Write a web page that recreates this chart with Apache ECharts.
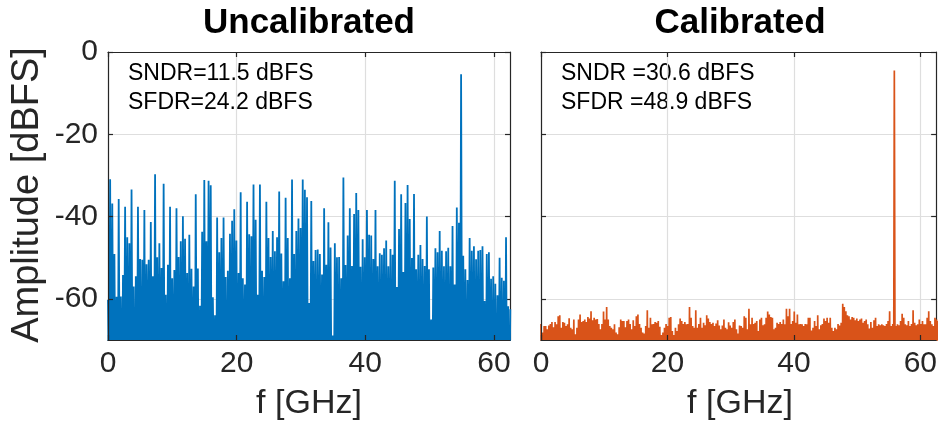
<!DOCTYPE html>
<html>
<head>
<meta charset="utf-8">
<script src="https://cdn.jsdelivr.net/npm/echarts@6/dist/echarts.min.js"></script>
<style>
  html, body { margin: 0; padding: 0; background: #fff; }
  #chart { width: 940px; height: 425px; }
</style>
</head>
<body>
<div id="chart"></div>
<script>
// Output spectra of the ADC, in dBFS, before and after calibration.
// Each spectrum is stored as its spectral-line maxima plus the deep
// minima between neighbouring lines (below the -70 dB plot floor).

const panelTitles = ['Uncalibrated', 'Calibrated'];
const metricLines = [
  ['SNDR=11.5 dBFS', 'SFDR=24.2 dBFS'],
  ['SNDR =30.6 dBFS', 'SFDR =48.9 dBFS']
];
const xTickValues = [0, 20, 40, 60];
const yTickValues = [-60, -40, -20, 0];
const freqRangeGHz = [0, 62.5];
const ampRangeDb = [-70, 0];

// spacing of the spectral lines, GHz
const uncalLineStepGHz = 0.3327;
const calLineStepGHz = 0.2473;

const uncalPeaks = [
  -60.2, -30.9, -36.8, -49.1, -59.5, -35.7, -59.4, -54.2, -37.6, -45.0,
  -46.5, -33.4, -57.0, -54.5, -37.6, -50.3, -50.5, -38.4, -51.6, -50.5,
  -41.3, -54.5, -29.7, -49.9, -46.5, -52.5, -32.0, -59.0, -51.7, -37.6,
  -55.0, -53.0, -38.0, -49.8, -46.0, -39.9, -45.4, -53.7, -44.4, -52.7,
  -57.0, -34.6, -52.6, -61.7, -43.7, -31.1, -46.0, -31.3, -32.4, -59.6,
  -64.0, -40.2, -48.7, -45.2, -40.2, -54.7, -53.2, -44.2, -41.0, -38.2,
  -45.8, -53.7, -34.1, -55.0, -56.5, -36.4, -44.3, -44.8, -32.2, -40.8,
  -59.0, -32.2, -53.2, -54.7, -36.4, -45.2, -49.8, -43.5, -48.4, -45.0,
  -33.9, -49.0, -55.7, -35.4, -45.2, -55.0, -31.0, -49.1, -43.5, -40.5,
  -42.8, -31.0, -33.5, -35.3, -61.0, -36.2, -50.8, -48.1, -48.0, -49.1,
  -54.1, -38.0, -51.7, -41.4, -47.5, -68.9, -46.5, -49.9, -49.8, -55.0,
  -30.5, -51.8, -44.6, -38.0, -52.0, -39.4, -34.3, -38.4, -52.2, -45.5,
  -49.9, -38.4, -44.4, -44.6, -50.3, -38.4, -52.1,
  -48.9, -49.3, -47.7, -45.8, -52.1, -47.9, -49.3, -31.3, -57.1, -43.0,
  -34.6, -53.5, -36.7, -32.3, -40.6, -50.1, -34.5, -52.8, -49.3, -46.9,
  -50.3, -52.0, -40.0, -52.8, -65.0, -52.4, -47.7, -48.7, -43.5, -48.3,
  -52.1, -48.4, -47.6, -52.1, -42.3, -56.5, -37.8, -41.5, -5.4, -49.5,
  -52.8, -55.4, -45.2, -48.3, -47.2, -50.4, -48.3, -48.1, -47.2, -60.5,
  -49.1, -48.7, -55.1, -54.5, -56.3, -59.1, -50.0, -54.9, -55.6, -45.0,
  -61.8, -62.5
];

const uncalValleys = [
  -88, -95, -82, -90, -99, -85, -92, -80, -96, -87,
  -91, -84, -98, -89, -83, -94, -86, -100, -81, -93,
  -90, -85, -97, -88, -82, -95, -87, -92, -84, -99,
  -86, -93, -81, -90, -96, -88, -83, -94, -89, -85,
  -98, -82, -91, -87, -95, -84, -90, -86, -93, -80,
  -97, -88, -85, -92, -83, -96, -89, -87, -94, -82,
  -91, -86, -99, -84, -90, -88, -95, -81, -93, -87,
  -85, -92, -89, -97, -83, -90, -86, -94, -88, -82,
  -96, -84, -91, -87, -93, -85, -98, -89, -82, -92,
  -86, -95, -83, -90, -88, -94, -81, -97, -87, -85,
  -92, -89, -84, -96, -88, -91, -83, -93, -86, -99,
  -82, -90, -87, -95, -85, -92, -88, -80, -94, -86,
  -91, -84, -97, -89, -83, -93, -87, -90, -85, -96,
  -88, -82, -92, -86, -95, -84, -89, -91, -83, -98,
  -87, -90, -85, -93, -81, -94, -88, -86, -92, -84,
  -96, -89, -83, -91, -87, -95, -82, -90, -86, -93,
  -85, -88, -97, -84, -92, -89, -83, -94, -87, -90,
  -86, -91, -84, -95, -88, -82, -93, -89, -85, -92,
  -87, -96, -83, -90, -88, -94, -86, -90
];

const calPeaks = [
  -66.1, -68.2, -66.6, -66.6, -67.4, -66.5, -66.1, -65.6, -66.9, -65.6,
  -66.2, -64.2, -64.0, -67.0, -65.6, -65.8, -66.6, -66.2, -64.7, -67.0,
  -67.4, -65.0, -68.6, -67.0, -65.0, -63.8, -65.6, -65.4, -65.0, -65.6,
  -64.4, -64.8, -63.0, -65.2, -64.6, -65.0, -64.9, -66.1, -67.4, -66.1,
  -63.1, -65.0, -62.0, -65.0, -66.6, -67.0, -67.4, -66.2, -68.2, -68.6,
  -66.9, -65.0, -65.4, -65.4, -66.9, -65.4, -65.0, -66.1, -67.4, -65.2,
  -66.6, -64.2, -63.8, -66.1, -67.0, -68.2, -68.4, -66.6, -62.8, -67.0,
  -64.6, -66.2, -66.1, -65.6, -65.8, -65.4, -66.8, -68.8, -68.2, -67.0,
  -66.1, -66.6, -64.6, -64.4, -67.8, -68.8, -67.0, -67.8, -66.2, -64.8,
  -65.4, -66.1, -65.6, -66.2, -66.1, -62.0, -64.6, -66.6, -67.0, -62.8,
  -67.0, -66.1, -64.6, -67.0, -65.8, -66.4, -64.0, -64.8, -65.6, -66.1,
  -65.8, -66.6, -66.0, -65.2, -66.5, -67.4, -66.5, -65.0, -67.0, -67.4,
  -65.7, -66.5, -67.0, -65.6, -65.0, -67.4, -68.4, -66.5, -66.6, -67.0,
  -64.2,
  -64.6, -67.4, -62.4, -66.2, -64.6, -66.1, -65.8, -65.4, -67.8, -65.0,
  -64.6, -66.4, -66.2, -64.6, -63.1, -63.8, -64.4, -64.6, -67.4, -67.0,
  -65.8, -66.1, -65.6, -66.1, -65.0, -66.2, -62.4, -64.2, -62.4, -66.1,
  -65.4, -63.1, -65.8, -63.8, -66.2, -66.1, -66.2, -66.6, -66.1, -66.2,
  -64.6, -64.6, -67.7, -67.0, -65.4, -66.6, -64.0, -67.4, -66.4, -66.1,
  -64.8, -65.4, -64.6, -65.8, -64.6, -67.0, -67.8, -67.0, -67.4, -66.1,
  -66.5, -65.8, -61.2, -62.0, -63.0, -64.0, -64.2, -65.0, -64.4, -64.6,
  -65.2, -64.8, -65.4, -65.0, -64.8, -65.8, -65.4, -65.0, -66.2, -67.2,
  -65.6, -67.0, -65.2, -64.6, -66.6, -66.2, -66.4, -66.2, -66.4, -66.6,
  -66.1, -65.4, -63.0, -66.6, -66.1, -4.5,
  -66.6, -66.2, -66.4, -65.4, -63.6, -64.6, -66.2, -66.4, -65.4, -66.6,
  -66.1, -62.8, -65.8, -66.4, -66.2, -65.0, -66.1, -65.4, -66.2, -66.2,
  -64.6, -63.0, -65.4, -66.2, -66.6, -64.6, -65.0,
  -65.4, -66.2, -64.9, -65.8
];

const calValleys = [
  -84, -90, -81, -87, -93, -85, -89, -82, -91, -86,
  -88, -83, -94, -85, -80, -89, -92, -84, -87, -90,
  -82, -86, -93, -88, -84, -91, -85, -80, -89, -87,
  -92, -83, -86, -90, -85, -94, -81, -88, -84, -91,
  -87, -82, -89, -93, -86, -84, -90, -85, -88, -81,
  -92, -87, -83, -89, -86, -94, -84, -90, -82, -88,
  -85, -91, -87, -83, -93, -86, -89, -81, -90, -84,
  -88, -92, -85, -87, -82, -91, -86, -89, -84, -93,
  -80, -88, -85, -90, -87, -83, -92, -86, -89, -84,
  -91, -82, -88, -94, -85, -87, -90, -83, -86, -89,
  -84, -92, -81, -88, -86, -90, -85, -93, -87, -82,
  -89, -84, -91, -86, -88, -83, -90, -85, -92, -87,
  -81, -89, -84, -93, -86, -88, -82, -90, -85, -87,
  -91, -83, -89, -86, -94, -84, -88, -80, -92, -85,
  -87, -90, -83, -89, -86, -91, -84, -88, -82, -93,
  -85, -87, -90, -84, -89, -81, -92, -86, -88, -83,
  -91, -85, -87, -94, -84, -89, -86, -90, -82, -88,
  -85, -93, -87, -83, -90, -86, -89, -84, -91, -81,
  -88, -86, -92, -85, -87, -83, -90, -84, -89, -86,
  -94, -82, -88, -85, -91, -87, -84, -90, -83, -89,
  -86, -92, -81, -88, -85, -90, -87, -84, -93, -86,
  -89, -83, -91, -85, -88, -82, -90, -87, -84, -92,
  -86, -89, -80, -88, -85, -91, -83, -87, -90, -84,
  -93, -86, -88, -82, -89, -85, -91, -87, -84, -90,
  -86, -83, -92, -88, -85, -89, -81, -87, -90, -84,
  -88, -86, -91, -83, -89, -85, -92
];

// Interleave line maxima with the minima that lie half a step after them.
function spectrumPoints(peaks, valleys, step) {
  const pts = [];
  peaks.forEach((p, i) => {
    pts.push([i * step, p]);
    if (i < valleys.length && i < peaks.length - 1) {
      pts.push([(i + 0.5) * step, valleys[i]]);
    }
  });
  return pts;
}

const FONT = '"Liberation Sans", Arial, Helvetica, sans-serif';
const INK = '#262626';
const GRIDC = '#dedede';
const BLUE = '#0072BD';
const ORANGE = '#D95319';

const grids = [
  { left: 108, top: 52, width: 402, height: 288 },
  { left: 541, top: 52, width: 402, height: 288 }
];

const xAxes = [];
const yAxes = [];
grids.forEach((g, gi) => {
  // labelled bottom axis, drawn above the data
  xAxes.push({
    type: 'value', gridIndex: gi, position: 'bottom', z: 10,
    min: freqRangeGHz[0], max: freqRangeGHz[1],
    axisLine: { show: true, onZero: false, lineStyle: { color: INK, width: 1.2 } },
    axisTick: { show: true, inside: true, length: 5, customValues: xTickValues, lineStyle: { color: INK, width: 1.2 } },
    axisLabel: { show: true, customValues: xTickValues, fontSize: 30, color: INK, fontFamily: FONT, margin: 9 },
    splitLine: { show: false }
  });
  // top frame edge, carrying the vertical grid lines behind the data
  xAxes.push({
    type: 'value', gridIndex: gi, position: 'top', z: 0,
    min: freqRangeGHz[0], max: freqRangeGHz[1],
    axisLine: { show: true, onZero: false, lineStyle: { color: INK, width: 1.2 } },
    axisTick: { show: true, inside: true, length: 5, customValues: xTickValues, lineStyle: { color: INK, width: 1.2 } },
    axisLabel: { show: false },
    splitLine: { show: true, lineStyle: { color: GRIDC, width: 1.2 } }
  });
  yAxes.push({
    type: 'value', gridIndex: gi, position: 'left', z: 10,
    min: ampRangeDb[0], max: ampRangeDb[1],
    axisLine: { show: true, onZero: false, lineStyle: { color: INK, width: 1.2 } },
    axisTick: { show: true, inside: true, length: 5, customValues: yTickValues, lineStyle: { color: INK, width: 1.2 } },
    axisLabel: { show: gi === 0, customValues: yTickValues, fontSize: 30, color: INK, fontFamily: FONT, margin: 10 },
    splitLine: { show: false }
  });
  yAxes.push({
    type: 'value', gridIndex: gi, position: 'right', z: 0,
    min: ampRangeDb[0], max: ampRangeDb[1],
    axisLine: { show: true, onZero: false, lineStyle: { color: INK, width: 1.2 } },
    axisTick: { show: true, inside: true, length: 5, customValues: yTickValues, lineStyle: { color: INK, width: 1.2 } },
    axisLabel: { show: false },
    splitLine: { show: true, lineStyle: { color: GRIDC, width: 1.2 } }
  });
});

function spectrumSeries(name, pts, color, gi, width) {
  return {
    name, type: 'line', data: pts,
    xAxisIndex: gi * 2, yAxisIndex: gi * 2,
    showSymbol: false, symbol: 'none', clip: true, z: 5,
    lineStyle: { color, width },
    silent: true, animation: false
  };
}

const panelCenters = grids.map(g => g.left + g.width / 2);
const textEls = [];
panelTitles.forEach((t, i) => {
  textEls.push({
    type: 'text', x: i === 0 ? panelCenters[0] : 740, y: 23,
    style: { text: t, fontSize: 35, fontWeight: 'bold', fontFamily: FONT, fill: '#000',
             align: 'center', verticalAlign: 'middle' }
  });
  textEls.push({
    type: 'text', x: i === 0 ? panelCenters[0] : 740, y: 404,
    style: { text: 'f [GHz]', fontSize: 34, fontFamily: FONT, fill: INK,
             align: 'center', verticalAlign: 'middle' }
  });
  metricLines[i].forEach((line, k) => {
    textEls.push({
      type: 'text', x: grids[i].left + 20, y: 74 + k * 28.5,
      style: { text: line, fontSize: 23, fontFamily: FONT, fill: '#000',
               align: 'left', verticalAlign: 'middle' }
    });
  });
});
textEls.push({
  type: 'text', x: 28, y: 195, rotation: Math.PI / 2,
  style: { text: 'Amplitude [dBFS]', fontSize: 38, fontFamily: FONT, fill: INK,
           align: 'center', verticalAlign: 'middle' }
});

const chart = echarts.init(document.getElementById('chart'), null, { renderer: 'canvas' });
chart.setOption({
  backgroundColor: '#ffffff',
  animation: false,
  grid: grids.map(g => Object.assign({ containLabel: false }, g)),
  xAxis: xAxes,
  yAxis: yAxes,
  series: [
    spectrumSeries(panelTitles[0], spectrumPoints(uncalPeaks, uncalValleys, uncalLineStepGHz), BLUE, 0, 1.8),
    spectrumSeries(panelTitles[1], spectrumPoints(calPeaks, calValleys, calLineStepGHz), ORANGE, 1, 1.7)
  ],
  graphic: textEls
});
</script>
</body>
</html>
